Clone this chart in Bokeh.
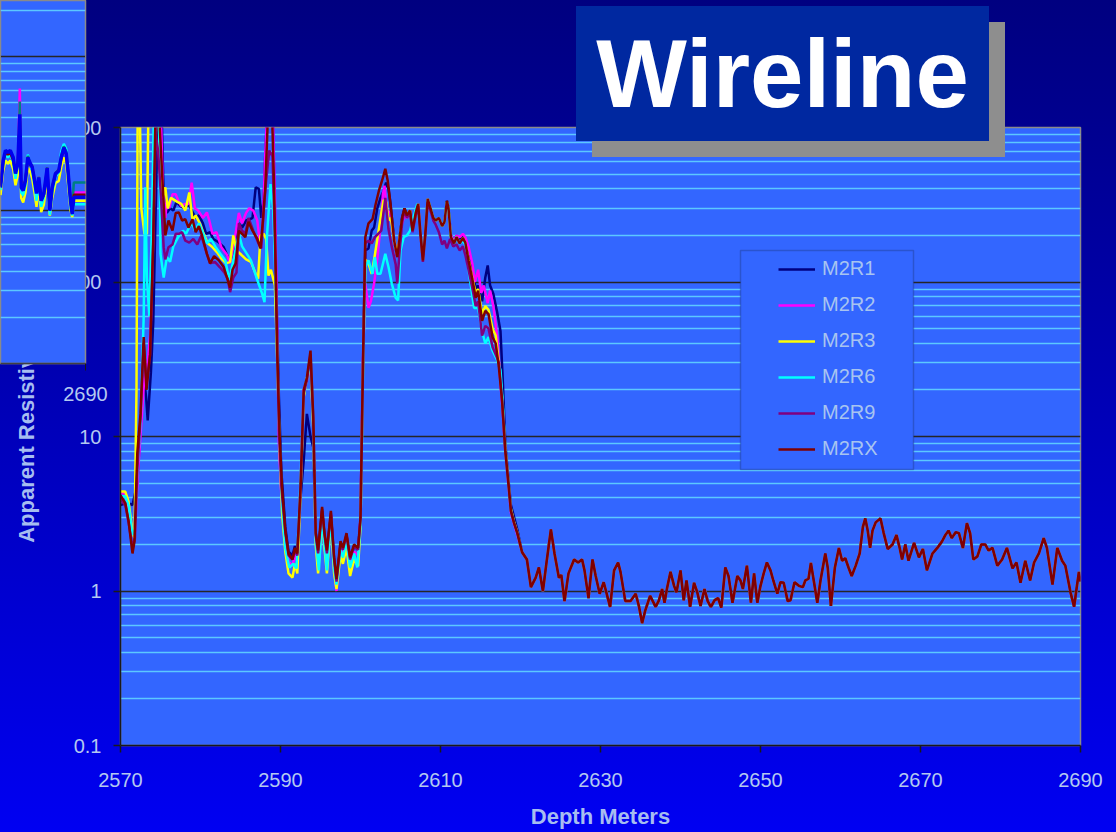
from bokeh.plotting import figure
from bokeh.models import (Range1d, FixedTicker, NumeralTickFormatter, Div,
                          Legend, LegendItem, BoxAnnotation, Grid, GlobalInlineStyleSheet)
from bokeh.embed import file_html
from bokeh.resources import INLINE

FONT = "Liberation Sans"

# ---------------- data (depth m, apparent resistivity ohm-m) ----------------
series_names = ["M2R1", "M2R2", "M2R3", "M2R6", "M2R9", "M2RX"]
series_colors = ["#000080", "#FF00FF", "#FFFF00", "#00FFFF", "#800080", "#800000"]
title_text = "Wireline"

# section below ~2620 m where all curves coincide
tail = [(2620.2,1.78),(2620.8,1.6),(2621.3,1.06),(2621.9,1.22),(2622.3,1.42),(2622.8,1.0),(2623.3,1.6),
        (2623.8,2.5),(2624.25,1.75),(2624.8,1.22),(2625.1,1.27),(2625.5,0.86),(2626.0,1.3),(2626.7,1.6),
        (2627.2,1.53),(2627.7,1.6),(2628.0,1.36),(2628.5,0.9),(2629.0,1.6),(2629.4,1.25),(2629.9,0.96),
        (2630.4,1.14),(2631.2,0.79),(2631.7,1.36),(2632.2,1.53),(2632.5,1.33),(2633.1,0.86),(2633.75,0.86),
        (2634.4,0.96),(2634.8,0.8),(2635.2,0.62),(2635.6,0.75),(2636.2,0.93),(2636.9,0.79),(2637.3,0.87),
        (2637.7,1.03),(2638.0,0.84),(2638.3,1.03),(2638.75,1.33),(2639.2,1.08),(2639.5,0.98),(2640.0,1.36),
        (2640.4,0.87),(2640.75,1.17),(2641.2,0.79),(2641.7,1.13),(2642.1,0.98),(2642.5,0.8),(2643.0,1.03),
        (2643.4,0.86),(2643.8,0.79),(2644.25,0.87),(2644.7,0.9),(2645.1,0.78),(2645.6,1.42),(2646.0,1.25),
        (2646.5,0.84),(2647.1,1.25),(2647.5,1.17),(2647.8,1.03),(2648.3,1.46),(2648.8,0.84),(2649.2,1.3),
        (2649.6,0.84),(2650.0,1.08),(2650.4,1.3),(2650.8,1.53),(2651.25,1.36),(2651.6,1.17),(2652.1,0.96),
        (2652.5,1.14),(2652.9,1.13),(2653.4,0.86),(2653.75,0.87),(2654.25,1.14),(2654.8,1.08),(2655.3,1.06),
        (2655.6,1.17),(2656.0,1.2),(2656.3,1.52),(2656.7,1.13),(2657.1,0.84),(2657.5,1.17),(2658.1,1.75),
        (2658.4,1.42),(2658.8,0.8),(2659.3,1.42),(2659.8,1.9),(2660.2,1.57),(2660.6,1.63),(2661.0,1.42),
        (2661.4,1.25),(2661.9,1.46),(2662.4,1.75),(2662.8,2.6),(2663.1,2.95),(2663.4,2.46),(2663.7,1.9),
        (2664.0,2.46),(2664.4,2.78),(2665.0,2.95),(2665.4,2.37),(2665.9,1.87),(2666.5,2.0),(2667.0,2.3),
        (2667.4,1.9),(2667.7,1.6),(2668.1,2.0),(2668.5,1.57),(2669.2,2.05),(2669.8,1.65),(2670.3,1.87),
        (2670.8,1.36),(2671.5,1.75),(2672.1,1.9),(2672.7,2.1),(2673.1,2.3),(2673.5,2.46),(2673.9,2.2),
        (2674.4,2.4),(2674.8,2.37),(2675.3,1.9),(2675.8,2.75),(2676.2,2.37),(2676.6,1.6),(2677.1,1.67),
        (2677.6,2.0),(2678.1,2.0),(2678.5,1.83),(2679.0,1.9),(2679.6,1.46),(2680.2,1.6),(2680.8,1.9),
        (2681.5,1.4),(2682.0,1.53),(2682.5,1.13),(2683.1,1.57),(2683.7,1.17),(2684.2,1.53),(2684.8,1.75),
        (2685.4,2.2),(2685.8,1.9),(2686.5,1.1),(2687.1,1.9),(2687.7,1.57),(2688.1,1.46),(2688.75,0.98),
        (2689.2,0.79),(2689.5,1.03),(2689.8,1.33),(2690.0,1.15)]

m2rx_head = [(2570.0,4.15),(2570.6,3.7),(2571.0,2.86),(2571.5,1.75),(2571.75,2.1),(2572.1,7.8),(2572.5,14),
             (2572.9,44),(2573.25,20),(2573.7,34),(2574.1,195),(2574.4,1500),(2574.75,1500),(2575.0,800),
             (2575.4,320),(2575.6,200),(2576.0,250),(2576.5,215),(2576.9,280),(2577.3,282),(2577.7,250),
             (2578.1,255),(2578.5,225),(2579.0,255),(2579.4,210),(2579.8,230),(2580.2,200),(2580.8,152),
             (2581.2,132),(2581.7,147),(2582.3,138),(2582.9,125),(2583.3,107),(2583.7,92),(2584.0,120),
             (2584.4,132),(2584.8,215),(2585.2,205),(2585.6,195),(2586.0,245),(2586.5,215),(2587.1,190),
             (2587.5,165),(2587.8,250),(2588.1,410),(2588.5,1500),(2588.9,1500),(2589.2,410),(2589.4,120),
             (2589.6,34),(2589.9,10),(2590.2,4.6),(2590.6,2.46),(2591.0,1.75),(2591.5,1.6),(2591.8,1.9),
             (2592.1,1.75),(2592.5,4.6),(2592.9,20),(2593.3,24),(2593.75,36),(2594.1,13.2),(2594.4,2.37),
             (2594.7,1.83),(2595.2,3.5),(2595.5,2.37),(2595.8,1.83),(2596.3,3.3),(2596.7,1.65),(2597.0,1.2),
             (2597.5,2.1),(2597.8,1.9),(2598.25,2.37),(2598.7,1.65),(2599.2,2.0),(2599.7,1.9),(2600.0,3.0),
             (2600.3,28),(2600.6,195),(2601.0,240),(2601.5,255),(2601.9,320),(2602.3,390),(2602.7,454),
             (2603.1,540),(2603.4,454),(2603.75,320),(2604.2,186),(2604.6,145),(2604.9,195),(2605.2,260),
             (2605.5,300),(2605.8,270),(2606.2,290),(2606.5,215),(2606.9,280),(2607.2,320),(2607.5,205),
             (2607.8,138),(2608.1,205),(2608.4,345),(2608.75,300),(2609.1,260),(2609.4,250),(2609.8,260),
             (2610.2,230),(2610.5,245),(2610.8,335),(2611.0,300),(2611.3,195),(2611.7,178),(2612.0,195),
             (2612.4,178),(2612.8,192),(2613.1,180),(2613.5,138),(2614.0,103),(2614.4,79),(2614.7,88),
             (2615.2,56),(2615.6,65),(2616.0,62),(2616.5,44),(2616.9,40),(2617.3,28),(2617.7,17),
             (2618.1,8.1),(2618.5,4.9),(2618.8,3.3),(2619.2,2.75),(2619.6,2.37)]

m2r1_head = [(2570.0,3.6),(2570.6,3.7),(2571.0,3.7),(2571.5,3.6),(2572.1,5.0),(2572.6,14),(2572.9,25),
             (2573.2,18),(2573.4,12.7),(2573.8,26),(2574.1,56),(2574.4,300),(2574.7,1500),(2575.1,1500),
             (2575.4,350),(2575.8,280),(2576.2,300),(2576.6,290),(2577.0,330),(2577.5,310),(2578.0,300),
             (2578.5,320),(2578.9,290),(2579.4,260),(2579.8,270),(2580.3,240),(2580.7,205),(2581.2,210),
             (2581.6,190),(2582.3,180),(2582.9,168),(2583.3,150),(2583.7,138),(2584.1,150),(2584.8,240),
             (2585.2,225),(2585.7,250),(2586.2,255),(2586.5,260),(2586.9,410),(2587.3,400),(2587.6,260),
             (2587.9,340),(2588.1,680),(2588.4,1500),(2589.0,1500),(2589.3,300),(2589.5,80),(2589.8,18),
             (2590.1,6.0),(2590.6,2.6),(2591.0,1.8),(2591.5,1.7),(2591.8,1.95),(2592.1,1.8),(2592.5,4.0),
             (2592.9,7.0),(2593.3,14),(2593.75,10),(2594.1,8.5),(2594.4,2.4),(2594.7,1.75),(2595.2,3.3),
             (2595.5,2.3),(2595.8,1.75),(2596.3,3.1),(2596.7,1.6),(2597.0,1.12),(2597.5,2.0),(2597.8,1.85),
             (2598.25,2.3),(2598.7,1.6),(2599.2,1.95),(2599.7,1.85),(2600.0,2.9),(2600.3,25),(2600.6,160),
             (2601.0,165),(2601.4,215),(2601.7,225),(2602.1,300),(2602.5,350),(2602.9,390),(2603.2,440),
             (2603.5,400),(2603.75,320),(2604.2,186),(2604.6,145),(2604.9,195),(2605.2,260),(2605.5,300),
             (2605.8,270),(2606.2,290),(2606.5,215),(2606.9,280),(2607.2,320),(2607.5,205),(2607.8,138),
             (2608.1,205),(2608.4,345),(2608.75,300),(2609.1,260),(2609.4,250),(2609.8,260),(2610.2,230),
             (2610.5,245),(2610.8,335),(2611.0,300),(2611.3,200),(2611.7,185),(2612.0,200),(2612.4,190),
             (2612.8,195),(2613.1,180),(2613.5,150),(2614.0,120),(2614.4,90),(2614.7,95),(2615.2,75),
             (2615.6,107),(2615.9,128),(2616.2,95),(2616.6,84),(2617.1,63),(2617.5,48),(2617.8,22),
             (2618.1,9.0),(2618.5,5.2),(2618.8,3.6),(2619.2,3.0),(2619.6,2.5)]

m2r2_head = [(2570.0,4.3),(2570.6,4.3),(2571.0,3.5),(2571.5,2.4),(2571.8,2.4),(2572.2,6.0),(2572.6,12),
             (2573.0,25),(2573.4,30),(2573.75,48),(2574.1,200),(2574.4,1500),(2575.0,1500),(2575.3,400),
             (2575.6,260),(2575.8,337),(2576.1,300),(2576.5,370),(2576.9,370),(2577.3,330),(2577.6,310),
             (2578.0,320),(2578.5,320),(2578.9,440),(2579.3,300),(2579.7,290),(2580.3,260),(2580.8,282),
             (2581.1,250),(2581.5,205),(2582.0,210),(2582.6,168),(2583.3,150),(2583.7,132),(2584.2,180),
             (2584.8,280),(2585.2,240),(2585.7,280),(2586.1,300),(2586.6,290),(2587.1,250),(2587.5,165),
             (2587.8,250),(2588.1,680),(2588.4,1500),(2589.0,1500),(2589.3,350),(2589.5,100),(2589.8,9.0),
             (2590.1,4.2),(2590.6,2.2),(2591.0,1.55),(2591.5,1.45),(2591.8,1.7),(2592.1,1.55),(2592.5,4.8),
             (2592.9,20),(2593.3,23),(2593.75,30),(2594.1,12),(2594.4,2.2),(2594.7,1.5),(2595.2,3.2),
             (2595.5,2.1),(2595.8,1.5),(2596.3,3.1),(2596.7,1.4),(2597.0,1.0),(2597.5,1.9),(2597.8,1.7),
             (2598.25,2.1),(2598.7,1.45),(2599.2,1.8),(2599.7,1.7),(2600.0,3.0),(2600.3,30),(2600.6,98),
             (2601.0,68),(2601.3,75),(2601.7,98),(2602.1,140),(2602.5,230),(2602.8,370),(2603.0,420),
             (2603.3,290),(2603.75,280),(2604.2,186),(2604.6,145),(2604.9,195),(2605.2,240),(2605.5,270),
             (2605.8,260),(2606.2,290),(2606.5,215),(2606.9,280),(2607.2,320),(2607.5,205),(2607.8,138),
             (2608.1,205),(2608.4,345),(2608.75,300),(2609.1,260),(2609.4,250),(2609.8,260),(2610.2,230),
             (2610.5,245),(2610.8,320),(2611.0,290),(2611.3,200),(2611.7,185),(2612.0,200),(2612.4,195),
             (2612.8,205),(2613.1,195),(2613.5,170),(2614.0,130),(2614.3,100),(2614.7,120),(2615.1,85),
             (2615.4,95),(2615.9,73),(2616.2,88),(2616.6,70),(2617.1,44),(2617.5,22),(2617.8,14),
             (2618.1,8.0),(2618.5,4.8),(2618.8,3.2),(2619.2,2.7),(2619.6,2.3)]

m2r3_head = [(2570.0,4.4),(2570.6,4.4),(2571.0,3.8),(2571.5,2.4),(2571.75,2.2),(2572.0,20),(2572.15,1500),
             (2572.4,1500),(2572.6,300),(2573.0,205),(2573.3,205),(2573.5,1500),(2574.7,1500),(2575.0,454),
             (2575.3,350),(2575.6,410),(2575.9,300),(2576.3,350),(2576.7,340),(2577.1,330),(2577.6,320),
             (2578.1,290),(2578.6,380),(2579.0,250),(2579.4,270),(2579.9,240),(2580.4,205),(2580.9,178),
             (2581.4,170),(2582.1,155),(2582.7,140),(2583.2,132),(2583.7,135),(2584.1,200),(2584.5,160),
             (2585.1,150),(2585.7,140),(2586.3,135),(2586.9,113),(2587.2,105),(2587.5,200),(2587.9,205),
             (2588.2,190),(2588.5,110),(2588.8,120),(2589.3,95),(2589.6,30),(2589.9,8.0),(2590.2,3.2),
             (2590.6,1.8),(2591.0,1.3),(2591.5,1.22),(2591.8,1.5),(2592.1,1.3),(2592.5,4.2),(2592.9,18),
             (2593.3,24),(2593.75,30),(2594.1,11),(2594.4,2.0),(2594.7,1.3),(2595.2,3.0),(2595.5,1.9),
             (2595.8,1.3),(2596.3,2.9),(2596.7,1.3),(2597.0,1.03),(2597.5,1.7),(2597.8,1.5),(2598.25,1.9),
             (2598.7,1.25),(2599.2,1.6),(2599.7,1.45),(2600.0,2.6),(2600.3,25),(2600.6,140),(2601.0,132),
             (2601.4,113),(2601.8,150),(2602.2,205),(2602.6,280),(2602.9,340),(2603.2,330),(2603.5,250),
             (2603.8,260),(2604.2,186),(2604.6,150),(2604.9,195),(2605.2,250),(2605.5,290),(2605.8,270),
             (2606.2,290),(2606.5,215),(2606.9,280),(2607.2,320),(2607.5,205),(2607.8,138),(2608.1,205),
             (2608.4,345),(2608.75,300),(2609.1,260),(2609.4,250),(2609.8,260),(2610.2,230),(2610.5,245),
             (2610.8,330),(2611.0,300),(2611.3,195),(2611.7,178),(2612.0,195),(2612.4,178),(2612.8,192),
             (2613.1,180),(2613.5,140),(2614.0,105),(2614.4,85),(2614.7,90),(2615.2,62),(2615.6,70),
             (2616.0,66),(2616.5,50),(2616.9,45),(2617.3,30),(2617.7,18),(2618.1,8.5),(2618.5,5.0),
             (2618.8,3.4),(2619.2,2.8),(2619.6,2.4)]

m2r6_head = [(2570.0,4.1),(2570.6,4.1),(2571.0,3.6),(2571.5,2.3),(2571.8,2.5),(2572.1,6.0),(2572.5,12),
             (2572.9,60),(2573.1,410),(2573.3,107),(2573.6,60),(2573.9,200),(2574.2,1500),(2574.8,1500),
             (2575.0,152),(2575.4,107),(2575.8,145),(2576.2,135),(2576.6,170),(2577.2,195),(2577.8,215),
             (2578.2,205),(2578.9,245),(2579.3,215),(2579.8,240),(2580.2,215),(2580.8,178),(2581.3,190),
             (2581.9,168),(2582.5,152),(2583.1,138),(2583.6,103),(2584.1,138),(2584.8,205),(2585.2,170),
             (2585.8,152),(2586.3,138),(2587.1,103),(2587.7,84),(2588.0,74),(2588.3,195),(2588.75,430),
             (2589.1,290),(2589.4,92),(2589.8,12.7),(2590.2,3.7),(2590.6,1.9),(2591.1,1.42),(2591.6,1.5),
             (2592.0,1.4),(2592.4,3.8),(2592.9,19),(2593.3,23),(2593.75,32),(2594.1,12),(2594.4,2.1),
             (2594.8,1.36),(2595.2,3.1),(2595.5,2.0),(2595.8,1.36),(2596.3,3.0),(2596.7,1.4),(2597.0,1.1),
             (2597.5,1.85),(2597.8,1.65),(2598.25,2.1),(2598.7,1.42),(2599.2,1.75),(2599.6,1.42),(2600.0,2.7),
             (2600.3,25),(2600.6,125),(2601.0,138),(2601.5,113),(2601.8,145),(2602.1,113),(2602.5,113),
             (2603.1,152),(2603.5,125),(2603.9,98),(2604.4,79),(2604.7,76),(2605.0,160),(2605.4,195),
             (2605.8,200),(2606.2,215),(2606.6,260),(2607.1,320),(2607.5,205),(2607.8,138),(2608.1,205),
             (2608.4,345),(2608.75,300),(2609.1,260),(2609.4,250),(2609.8,260),(2610.2,230),(2610.5,245),
             (2610.8,330),(2611.0,300),(2611.3,195),(2611.7,178),(2612.0,195),(2612.4,178),(2612.8,185),
             (2613.1,175),(2613.5,120),(2614.2,68),(2614.7,68),(2615.2,48),(2615.6,40),(2616.0,44),
             (2616.5,36),(2617.1,31),(2617.5,27),(2617.8,16),(2618.1,8.0),(2618.5,4.9),(2618.8,3.3),
             (2619.2,2.75),(2619.6,2.35)]

m2r9_head = [(2570.0,3.9),(2570.6,3.6),(2571.0,2.8),(2571.5,1.9),(2571.8,2.2),(2572.1,6.0),(2572.5,13),
             (2572.9,40),(2573.25,22),(2573.7,34),(2574.1,180),(2574.4,900),(2574.7,710),(2575.0,400),
             (2575.4,168),(2575.6,140),(2576.0,168),(2576.5,175),(2576.9,205),(2577.3,205),(2577.7,210),
             (2578.1,185),(2578.6,180),(2579.1,190),(2579.6,175),(2580.1,200),(2580.8,152),(2581.2,132),
             (2581.8,135),(2582.4,125),(2583.0,115),(2583.4,105),(2583.7,86),(2584.1,107),(2584.5,115),
             (2584.8,240),(2585.2,215),(2585.6,205),(2586.0,260),(2586.6,215),(2587.2,180),(2587.6,165),
             (2587.9,290),(2588.2,450),(2588.6,710),(2589.0,650),(2589.3,200),(2589.5,60),(2589.8,11),
             (2590.1,4.8),(2590.6,2.4),(2591.0,1.7),(2591.5,1.6),(2591.8,1.85),(2592.1,1.7),(2592.5,4.5),
             (2592.9,19),(2593.3,23),(2593.75,34),(2594.1,12.5),(2594.4,2.3),(2594.7,1.75),(2595.2,3.4),
             (2595.5,2.3),(2595.8,1.75),(2596.3,3.2),(2596.7,1.6),(2597.0,1.15),(2597.5,2.0),(2597.8,1.85),
             (2598.25,2.3),(2598.7,1.6),(2599.2,1.95),(2599.7,1.85),(2600.0,2.9),(2600.3,27),(2600.6,178),
             (2601.0,185),(2601.4,178),(2601.8,195),(2602.2,205),(2602.6,215),(2603.1,350),(2603.5,220),
             (2603.9,170),(2604.4,130),(2604.6,98),(2604.9,160),(2605.2,240),(2605.5,290),(2605.8,260),
             (2606.2,280),(2606.5,210),(2606.9,270),(2607.2,310),(2607.5,200),(2607.8,135),(2608.1,200),
             (2608.4,330),(2608.75,290),(2609.1,250),(2609.4,235),(2609.8,210),(2610.2,175),(2610.5,185),
             (2610.8,165),(2611.2,190),(2611.6,170),(2612.0,175),(2612.4,160),(2612.8,170),(2613.1,150),
             (2613.5,120),(2614.0,90),(2614.4,70),(2614.7,75),(2615.2,45),(2615.6,52),(2616.0,50),
             (2616.5,38),(2617.0,33),(2617.3,30),(2617.7,17),(2618.1,8.0),(2618.5,4.9),(2618.8,3.3),
             (2619.2,2.75),(2619.6,2.37)]

heads = [m2r1_head, m2r2_head, m2r3_head, m2r6_head, m2r9_head, m2rx_head]

# partly hidden second log chart (top-left corner of the slide)
inset_depth = [2679.375, 2679.71, 2680.0, 2680.3, 2680.6, 2680.96, 2681.25, 2681.54, 2681.79, 2681.96,
               2682.21, 2682.5, 2682.79, 2683.125, 2683.34, 2683.625, 2683.875, 2684.16, 2684.46, 2684.79,
               2685.21, 2685.54, 2685.84, 2686.25, 2686.66, 2686.96, 2687.29, 2687.59, 2687.84, 2688.125,
               2688.34, 2688.54, 2688.875, 2689.375, 2690.1]
inset_yellow = [1.25, 1.8, 2.1, 2.0, 2.1, 1.85, 1.45, 1.7, 2.6, 1.2, 1.12, 1.3, 1.9, 1.75, 1.6, 1.3, 1.05, 1.4,
                0.97, 1.08, 1.6, 0.92, 1.2, 1.5, 1.55, 1.9, 2.2, 2.0, 1.45, 1.0, 0.9, 1.15, 1.15, 1.15, 1.15]
inset_cyan = [1.35, 2.0, 2.3, 2.2, 2.3, 2.05, 1.6, 1.95, 3.5, 1.3, 1.25, 1.45, 2.3, 1.95, 1.8, 1.45, 1.15, 1.55,
              1.05, 1.2, 1.8, 0.93, 1.3, 1.65, 1.75, 2.4, 2.7, 2.5, 1.6, 1.05, 0.92, 1.09, 1.09, 1.09, 1.09]
inset_magenta = [1.45, 2.15, 2.4, 2.35, 2.4, 2.2, 1.8, 2.1, 6.2, 1.5, 1.4, 1.6, 2.2, 2.0, 1.95, 1.6, 1.35, 1.65,
                 1.2, 1.3, 1.9, 1.05, 1.45, 1.75, 1.85, 2.2, 2.5, 2.3, 1.8, 1.2, 1.0, 1.3, 1.3, 1.3, 1.3]
inset_teal = [1.45, 2.1, 2.4, 2.35, 2.4, 2.2, 1.8, 2.05, 5.1, 1.45, 1.4, 1.6, 2.25, 2.0, 1.95, 1.6, 1.3, 1.65,
              1.2, 1.3, 1.9, 1.02, 1.45, 1.75, 1.85, 2.25, 2.6, 2.4, 1.8, 1.2, 1.0, 1.51, 1.51, 1.51, 1.51]
inset_darkred = [1.42, 2.05, 2.35, 2.3, 2.35, 2.1, 1.75, 2.0, 3.8, 1.42, 1.36, 1.58, 2.2, 1.95, 1.9, 1.55, 1.3,
                 1.6, 1.15, 1.25, 1.85, 1.0, 1.4, 1.7, 1.8, 2.15, 2.5, 2.3, 1.75, 1.15, 0.95, 1.26, 1.26, 1.26, 1.26]
inset_blue = [1.40, 2.1, 2.45, 2.37, 2.45, 2.2, 1.73, 2.0, 4.2, 1.40, 1.34, 1.56, 2.2, 2.0, 1.9, 1.56, 1.28,
              1.63, 1.15, 1.28, 1.88, 0.99, 1.40, 1.73, 1.8, 2.2, 2.55, 2.33, 1.73, 1.15, 0.94, 1.21, 1.21, 1.21, 1.21]

x_ticks = [2570, 2590, 2610, 2630, 2650, 2670, 2690]
y_decades = [0.1, 1, 10, 100, 1000]

# ---------------- styling ----------------
PLOT_BG = "#3366FF"
MAJOR_GRID = "#262626"
MINOR_GRID = "#5CC8FF"
TICK_TXT = "#B4C8F0"
AXIS_TXT = "#A6BDF0"

minor_y = [m * d for d in y_decades[:-1] for m in range(2, 10)]

p = figure(width=1116, height=832, y_axis_type="log",
           x_range=Range1d(2570, 2690), y_range=Range1d(0.1, 1000),
           min_border_left=120, min_border_right=36, min_border_top=127, min_border_bottom=87,
           output_backend="svg", toolbar_location=None)
p.border_fill_color = None
p.background_fill_color = PLOT_BG
p.outline_line_color = "#8A8A8A"
p.outline_line_width = 1.5

renderers = []
for name, color, head in zip(series_names, series_colors, heads):
    pts = head + tail
    xs = [d for d, _ in pts]
    ys = [v for _, v in pts]
    r = p.line(xs, ys, line_color=color, line_width=2.5)
    renderers.append(r)

p.xaxis.ticker = FixedTicker(ticks=x_ticks)
p.yaxis.ticker = FixedTicker(ticks=y_decades, minor_ticks=minor_y)
p.yaxis.formatter = NumeralTickFormatter(format="0.[0]")
for ax in (p.xaxis[0], p.yaxis[0]):
    ax.axis_line_color = "#1A1A1A"
    ax.axis_line_width = 1.5
    ax.major_tick_line_color = "#1A1A1A"
    ax.major_tick_line_width = 1.5
    ax.major_tick_out = 7
    ax.major_tick_in = 0
    ax.minor_tick_out = 0
    ax.minor_tick_in = 0
    ax.major_label_text_color = TICK_TXT
    ax.major_label_text_font = FONT
    ax.major_label_text_font_size = "20px"
    ax.axis_label_text_color = AXIS_TXT
    ax.axis_label_text_font = FONT
    ax.axis_label_text_font_style = "bold"
    ax.axis_label_text_font_size = "22px"
p.xaxis.axis_label = "Depth Meters"
p.xaxis.major_label_standoff = 20
p.xaxis.axis_label_standoff = 14
p.yaxis.axis_label = "Apparent Resistivity"
p.yaxis.major_label_standoff = 12
p.yaxis.axis_label_standoff = 15

p.xgrid.visible = False
p.ygrid.grid_line_color = MAJOR_GRID
p.ygrid.grid_line_width = 1.5
p.ygrid.minor_grid_line_color = MINOR_GRID
p.ygrid.minor_grid_line_width = 1.5

# legend box
box = BoxAnnotation(left=620, right=793, top=495, bottom=276,
                    left_units="screen", right_units="screen", top_units="screen", bottom_units="screen",
                    fill_color=PLOT_BG, fill_alpha=1.0, line_color="#1C2A5C", line_width=1.5)
p.add_layout(box)

legend = Legend(items=[LegendItem(label=n, renderers=[r]) for n, r in zip(series_names, renderers)],
                location=(648, 275), orientation="vertical",
                background_fill_alpha=0, border_line_alpha=0, padding=10, margin=0,
                spacing=13, glyph_width=37, glyph_height=20, label_height=20, label_standoff=7,
                label_text_font=FONT, label_text_font_size="20px", label_text_color="#A8C4F0")
p.add_layout(legend, "center")

p.stylesheets = [GlobalInlineStyleSheet(css=(
    "html, body { margin: 0; padding: 0; overflow: hidden; }"
    "html { height: 100%; background: linear-gradient(180deg, #000080 0%, #00008C 12%, #0000F2 100%); }"
))]

# ---------------- partly hidden chart in the corner ----------------
q = figure(width=115, height=413, y_axis_type="log", y_axis_location=None,
           x_range=Range1d(2679.375, 2690), y_range=Range1d(0.1, 23.2),
           min_border_left=0, min_border_top=0, min_border_right=30, min_border_bottom=50,
           output_backend="svg", toolbar_location=None)
q.border_fill_color = None
q.background_fill_color = PLOT_BG
q.outline_line_color = "#8A8A8A"
q.outline_line_width = 1.5
q.xgrid.visible = False
q.add_layout(Grid(dimension=1, ticker=FixedTicker(ticks=[0.1, 1, 10], minor_ticks=minor_y[:16] + [20]),
                  grid_line_color=MAJOR_GRID, grid_line_width=1.5,
                  minor_grid_line_color=MINOR_GRID, minor_grid_line_width=1.5))
for vals, color, w in [(inset_yellow, "#FFFF00", 2.5), (inset_cyan, "#00FFFF", 2.5), (inset_magenta, "#FF00FF", 2.5),
                       (inset_teal, "#008080", 2.5), (inset_darkred, "#800000", 2.5), (inset_blue, "#0000EE", 3.5)]:
    q.line(inset_depth, vals, line_color=color, line_width=w)
q.xaxis.ticker = FixedTicker(ticks=[2690])
xa = q.xaxis[0]
xa.axis_line_color = "#404040"
xa.axis_line_width = 1.5
xa.major_tick_line_color = "#1A1A1A"
xa.major_tick_out = 7
xa.major_tick_in = 0
xa.minor_tick_out = 0
xa.minor_tick_in = 0
xa.major_label_standoff = 16
xa.major_label_text_color = TICK_TXT
xa.major_label_text_font = FONT
xa.major_label_text_font_size = "20px"
q.styles = {"position": "absolute", "left": "0px", "top": "0px", "z-index": "5"}

# ---------------- title box with drop shadow ----------------
title = Div(text=title_text, width=413, height=135, margin=0, styles={
    "position": "absolute", "left": "576px", "top": "6px", "z-index": "10",
    "width": "413px", "height": "135px", "margin": "0px",
    "background-color": "#0028A0", "box-shadow": "16px 16px 0px #8E8E8E",
    "color": "#FFFFFF", "font-family": "'Liberation Sans', Arial, sans-serif", "font-weight": "bold",
    "font-size": "96px", "line-height": "135px", "text-align": "center", "overflow": "visible"})

open("out.html", "w").write(file_html([p, q, title], INLINE))
